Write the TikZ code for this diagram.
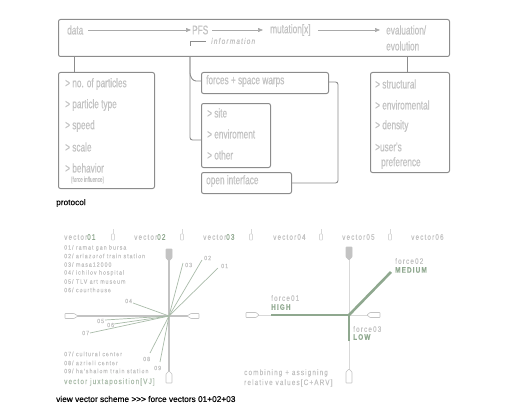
\documentclass[tikz,border=0pt]{standalone}
\usepackage{fontspec}
\setmainfont{Liberation Sans}
\newfontfamily\narrowf[FakeStretch=0.66,FakeBold=0.6]{Liberation Sans}
\newfontfamily\trackf[FakeStretch=0.8,LetterSpace=14,FakeBold=0.3]{Liberation Sans}
\newfontfamily\smallf[FakeStretch=0.85,LetterSpace=16,FakeBold=0.3]{Liberation Sans}
\newfontfamily\capf[FakeBold=0.25]{Liberation Sans}
\usetikzlibrary{arrows.meta}
\definecolor{boxc}{HTML}{8C8C8C}
\definecolor{txtc}{HTML}{C2C2C2}
\definecolor{grn}{HTML}{8FA88F}
\definecolor{lgrn}{HTML}{A9BBA9}
\definecolor{hand}{HTML}{D9D9D9}
\tikzset{
 flowbox/.style={draw=boxc,line width=1pt,rounded corners=2pt,anchor=north west,inner sep=0pt},
 conn/.style={draw=boxc,line width=.9pt,rounded corners=2.5pt},
 flowarrow/.style={draw=boxc!75,line width=.6pt,-{Triangle[length=5pt,width=4pt]}},
 big/.style={anchor=west,inner sep=0pt,text=txtc,font=\narrowf\fontsize{12.5}{12.5}\selectfont},
 small/.style={anchor=west,inner sep=0pt,text=txtc,font=\smallf\fontsize{6.2}{6.2}\selectfont},
 mid/.style={anchor=west,inner sep=0pt,text=txtc,font=\trackf\fontsize{8}{8}\selectfont},
 greentxt/.style={anchor=west,inner sep=0pt,text=grn,font=\trackf\bfseries\fontsize{8}{8}\selectfont},
 caption/.style={anchor=west,inner sep=0pt,text=black,font=\capf\fontsize{8.3}{8.3}\selectfont},
 ray/.style={draw=lgrn,line width=.7pt},
 axis/.style={draw=hand!90!black,line width=1.1pt},
 axisl/.style={draw=hand,line width=.8pt},
 strong/.style={draw=grn,line width=2.6pt},
 handlebox/.style={draw=hand!90!black,fill=white,line width=.6pt,rounded corners=.5pt},
 handlefill/.style={draw=hand!90!black,fill=hand!90!black,line width=.6pt,rounded corners=.5pt},
 tick/.style={draw=hand,line width=.6pt}
}
\begin{document}
\begin{tikzpicture}[x=1pt,y=-1pt]
\useasboundingbox (0,0) rectangle (514,420);
% boxes
\node[flowbox,minimum width=391pt,minimum height=37pt] (top) at (58,19) {};
\node[flowbox,minimum width=96pt,minimum height=116pt] (lbox) at (58,72) {};
\node[flowbox,minimum width=127pt,minimum height=21pt] (forces) at (201,72) {};
\node[flowbox,minimum width=69pt,minimum height=64pt] (site) at (201,103) {};
\node[flowbox,minimum width=90pt,minimum height=21pt] (open) at (201,172) {};
\node[flowbox,minimum width=79pt,minimum height=100pt] (rbox) at (370,72) {};
% top texts
\node[big] (data) at (67,30) {data};
\node[big] (pfs) at (192,30) {PFS};
\node[big] (mut) at (270,30) {mutation[x]};
\node[big] (eval) at (386,30) {evaluation/};
\node[big] at (386,46) {evolution};
\node[mid,font=\trackf\itshape\fontsize{8.2}{8.2}\selectfont] (info) at (211,41) {information};
\draw[flowarrow] ([xshift=5pt]data.east) -- ([xshift=-1pt]pfs.west);
\draw[flowarrow] ([xshift=4pt]pfs.east) -- ([xshift=-7pt]mut.west);
\draw[flowarrow] ([xshift=7pt]mut.east) -- ([xshift=-6pt]eval.west);
\coordinate (infoa) at (190,46);
\coordinate (infob) at (190,41);
\draw[draw=boxc,line width=.7pt] (infoa) -- (infob) -- ([xshift=-5pt]info.west);
% left texts
\node[big] at (65,84) {> no. of particles};
\node[big] at (65,105) {> particle type};
\node[big] at (65,126) {> speed};
\node[big] at (65,147) {> scale};
\node[big] at (65,168) {> behavior};
\node[small,font=\narrowf\fontsize{7}{7}\selectfont] at (71,180) {[force influence]};
\node[big] at (206,81) {forces + space warps};
\node[big] at (207,113) {> site};
\node[big] at (207,134) {> enviroment};
\node[big] at (207,155) {> other};
\node[big] at (206,181) {open interface};
\node[big] at (375,84) {> structural};
\node[big] at (375,105) {> enviromental};
\node[big] at (375,126) {> density};
\node[big] at (375,147) {>user's};
\node[big] at (381,163) {preference};
% connectors
\coordinate (lx) at (74,0);
\coordinate (rx) at (407,0);
\coordinate (bx) at (190,0);
\coordinate (wx) at (338,0);
\draw[conn] (lx |- top.south) -- (lx |- lbox.north);
\draw[conn] (rx |- top.south) -- (rx |- rbox.north);
\draw[conn] (bx |- top.south) -- (190,75.5) -- (193.5,81) -- (forces.west |- 0,81);
\draw[conn] (bx |- top.south) -- (190,140) -- (site.west |- 0,140);
\draw[conn] (forces.east |- 0,82) -- (338,82) -- (338,183) -- (open.east |- 0,183);
% captions
\node[caption] at (56,203) {protocol};
\node[caption] at (56,399) {view vector scheme >>> force vectors 01+02+03};
% vector headings
\node[mid] at (64,237) {vector\textcolor{grn}{01}};
\node[mid] at (134,237) {vector\textcolor{grn}{02}};
\node[mid] at (203,237) {vector\textcolor{grn}{03}};
\node[mid] at (273,237) {vector04};
\node[mid] at (342,237) {vector05};
\node[mid] at (411,237) {vector06};
\foreach \tx in {113,182,251,321,390}{
  \draw[tick] (\tx,229) -- (\tx,234);
  \draw[handlebox,draw=hand] (\tx-1.5,234) rectangle (\tx+1.5,240);
}
% left scheme
\coordinate (hubA) at (169,316);
\draw[axis] (169,254) -- (169,372);
\draw[axis] (77,316) -- (188,316);
\draw[handlefill] (166,249) -- (172,249) -- (172,258) -- (169,261) -- (166,258) -- cycle;
\draw[handlebox] (166,383) -- (172,383) -- (172,374) -- (169,371) -- (166,374) -- cycle;
\draw[handlebox] (65,313.5) -- (74,313.5) -- (78,316) -- (74,318.5) -- (65,318.5) -- cycle;
\draw[handlebox] (199,313.5) -- (191,313.5) -- (187,316) -- (191,318.5) -- (199,318.5) -- cycle;
\node[small] (n1) at (221,266) {01};
\node[small] (n2) at (204,258) {02};
\node[small] (n3) at (185,265) {03};
\node[small] (n4) at (125,301) {04};
\node[small] (n5) at (97,321) {05};
\node[small] (n6) at (107,325) {06};
\node[small] (n7) at (82,333) {07};
\node[small] (n8) at (143,359) {08};
\node[small] (n9) at (154,368) {09};
\coordinate (e1) at (218,268);
\coordinate (e2) at (202,260);
\coordinate (e3) at (183,263);
\coordinate (e4) at (133,303);
\coordinate (e5) at (105,320);
\coordinate (e6) at (114,324);
\coordinate (e7) at (90,333);
\coordinate (e8) at (150,353);
\coordinate (e9) at (160,362);
\foreach \e in {e1,e2,e3,e4,e5,e6,e7,e8,e9}{\draw[ray] (hubA) -- (\e);}
\node[small] at (64,248) {01/ ramat gan bursa};
\node[small] at (64,256) {02/ arlazorof train station};
\node[small] at (64,264.5) {03/ masa12000};
\node[small] at (64,273) {04/ ichilov hospital};
\node[small] at (64,281.5) {05/ TLV art museum};
\node[small] at (64,290) {06/ courthouse};
\node[small] at (64,354) {07/ cultural center};
\node[small] at (64,363) {08/ azrieli center};
\node[small] at (64,371) {09/ ha'shalom train station};
\node[mid,text=lgrn] at (64,382) {vector juxtaposition[VJ]};
% right scheme
\coordinate (hubB) at (349,315);
\draw[axisl] (349,258) -- (349,372);
\draw[axisl] (258,315) -- (368,315);
\draw[handlefill] (346,247) -- (352,247) -- (352,257) -- (349,260) -- (346,257) -- cycle;
\draw[handlebox] (346,383) -- (352,383) -- (352,372) -- (349,369) -- (346,372) -- cycle;
\draw[handlebox] (246,312.5) -- (256,312.5) -- (259,315) -- (256,317.5) -- (246,317.5) -- cycle;
\draw[handlebox] (380,312.5) -- (370,312.5) -- (367,315) -- (370,317.5) -- (380,317.5) -- cycle;
\node[mid] at (271,298) {force01};
\node[greentxt] (high) at (271,307) {HIGH};
\node[mid] at (395,261) {force02};
\node[greentxt] (medium) at (395,270) {MEDIUM};
\node[mid] at (353,329) {force03};
\node[greentxt] (low) at (353,337) {LOW};
\coordinate (f1) at (271,315);
\coordinate (f2) at (391,272);
\coordinate (f3) at (349,341);
\draw[strong] (f1) -- (hubB);
\draw[strong] (hubB) -- (f2);
\draw[strong] (hubB) -- (f3);
\node[mid] at (244,373) {combining + assigning};
\node[mid] at (244,383) {relative values[C+ARV]};
\end{tikzpicture}
\end{document}
